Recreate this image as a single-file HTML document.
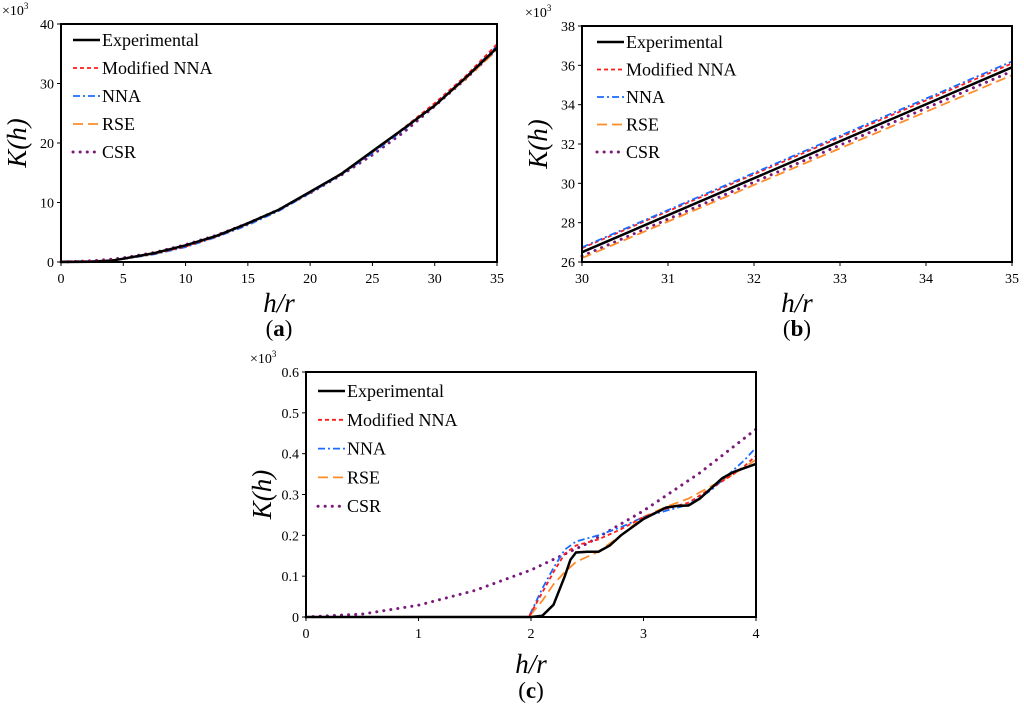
<!DOCTYPE html>
<html><head><meta charset="utf-8"><style>
body{margin:0;background:#fff;}
svg text{font-family:"Liberation Serif",serif;fill:#000;}
</style></head><body>
<svg id="s" width="1024" height="704" xmlns="http://www.w3.org/2000/svg"></svg>
<script>
// Panel (a) data
const aX = [0,2.5,4,5,7.5,10,12.5,15,17.5,20,22.5,25,27.5,30,32.5,35];
const aExp = [0,0.05,0.2,0.55,1.5,2.8,4.4,6.5,8.8,11.8,14.8,18.6,22.4,26.3,31.0,36.0];
const aMod = [0.1,0.15,0.3,0.5,1.4,2.6,4.3,6.4,8.8,11.7,14.9,18.5,22.5,26.7,31.3,36.6];
const aNNA = [0.1,0.15,0.3,0.5,1.3,2.5,4.2,6.2,8.6,11.6,14.7,18.3,22.2,26.4,31.1,36.3];
const aRSE = [0.1,0.15,0.3,0.5,1.4,2.6,4.3,6.4,8.7,11.7,14.8,18.4,22.3,26.3,30.8,35.6];
const aCSR = [0,0.2,0.45,0.7,1.6,2.9,4.5,6.5,8.8,11.6,14.6,18.0,21.8,26.2,30.8,35.8];
// Panel (b) data
const bX = [30,35];
const bExp = [26.5,35.9];
const bMod = [26.7,36.1];
const bNNA = [26.75,36.2];
const bRSE = [26.2,35.5];
const bCSR = [26.3,35.7];
// Panel (c) data
const cExpX = [0,2.0,2.1,2.2,2.3,2.35,2.4,2.5,2.6,2.7,2.8,3.0,3.2,3.3,3.4,3.5,3.6,3.7,3.8,4.0];
const cExp = [0,0,0.003,0.03,0.1,0.14,0.158,0.16,0.16,0.175,0.2,0.24,0.268,0.272,0.273,0.29,0.315,0.34,0.355,0.375];
const cFitX = [0,1.98,2.1,2.2,2.3,2.4,2.6,2.8,3.0,3.2,3.4,3.6,3.8,3.9,4.0];
const cMod = [0,0,0.06,0.11,0.155,0.175,0.19,0.215,0.245,0.265,0.28,0.315,0.35,0.37,0.395];
const cNNA = [0,0,0.07,0.12,0.165,0.185,0.2,0.22,0.245,0.26,0.275,0.31,0.36,0.385,0.415];
const cRSE = [0,0,0.04,0.08,0.11,0.135,0.16,0.2,0.245,0.27,0.29,0.32,0.35,0.367,0.385];
const cCSRX = [0,0.5,1,1.5,2,2.5,3,3.5,4];
const cCSR = [0,0.007,0.029,0.065,0.115,0.18,0.26,0.353,0.46];

const NS="http://www.w3.org/2000/svg";
const svg=document.getElementById('s');
function mk(tag,attrs,parent){const e=document.createElementNS(NS,tag);for(const k in attrs)e.setAttribute(k,attrs[k]);(parent||svg).appendChild(e);return e;}
const styles={
 exp:{stroke:'#000','stroke-width':2.5},
 mod:{stroke:'#ff1a1a','stroke-width':1.8,'stroke-dasharray':'4,3'},
 nna:{stroke:'#1a6bff','stroke-width':1.8,'stroke-dasharray':'7,3,2,3'},
 rse:{stroke:'#ff8c2a','stroke-width':1.8,'stroke-dasharray':'10,5'},
 csr:{stroke:'#7a1a7a','stroke-width':3,'stroke-dasharray':'0.1,7','stroke-linecap':'round'}
};
const names=['Experimental','Modified NNA','NNA','RSE','CSR'];
const keys=['exp','mod','nna','rse','csr'];

function panel(p){
  const g=mk('g',{});
  
  
  const sx=v=>p.x0+(v-p.xmin)/(p.xmax-p.xmin)*(p.x1-p.x0);
  const sy=v=>p.y0-(v-p.ymin)/(p.ymax-p.ymin)*(p.y0-p.y1);
  p.series.forEach((s,i)=>{
    const d=s.x.map((xv,j)=>(j?'L':'M')+sx(xv).toFixed(1)+','+sy(s.y[j]).toFixed(1)).join('');
    const path=mk('path',Object.assign({d:d,fill:'none'},styles[s.k]),g);
    
    
  });
  const fr=mk('rect',{x:p.x0,y:p.y1,width:p.x1-p.x0,height:p.y0-p.y1,fill:'none',stroke:'#000','stroke-width':2},g);
  
  
  p.xt.forEach(v=>{
    mk('line',{x1:sx(v),x2:sx(v),y1:p.y0,y2:p.y0+4,stroke:'#000','stroke-width':1},g);
    const t=mk('text',{x:sx(v),y:p.y0+21,'text-anchor':'middle','font-size':14},g);t.textContent=p.xl(v);
    
    
  });
  p.yt.forEach(v=>{
    mk('line',{x1:p.x0-4,x2:p.x0,y1:sy(v),y2:sy(v),stroke:'#000','stroke-width':1},g);
    const t=mk('text',{x:p.x0-7,y:sy(v)+5,'text-anchor':'end','font-size':14},g);t.textContent=p.yl(v);
    
    
  });
  keys.forEach((k,i)=>{
    const y=p.ly+i*p.lgap;
    mk('line',Object.assign({x1:p.lx,x2:p.lx+27,y1:y,y2:y},styles[k]),g);
    const t=mk('text',{x:p.lx+29,y:y+6,'font-size':18},g);t.textContent=names[i];
    
    
  });
  const m=mk('text',{x:p.mx,y:p.my,'font-size':14,fill:'#333'},g);
  m.innerHTML='×10<tspan dy="-6" font-size="9">3</tspan>';
  
  
  const yt=mk('text',{x:0,y:0,'font-size':27,'font-style':'italic','text-anchor':'middle',transform:`translate(${p.x0-35},${(p.y0+p.y1)/2}) rotate(-90)`},g);
  yt.textContent='K(h)';
  
  
  const xt=mk('text',{x:(p.x0+p.x1)/2,y:p.y0+p.tdy,'font-size':27,'font-style':'italic','text-anchor':'middle'},g);
  xt.textContent='h/r';
  
  
  const cap=mk('text',{x:(p.x0+p.x1)/2,y:p.y0+p.cdy,'font-size':23,'text-anchor':'middle'},g);
  cap.innerHTML='(<tspan font-weight="bold">'+p.id+'</tspan>)';
  
  
}
const r5=(a,b,s)=>{const o=[];for(let v=a;v<=b+1e-9;v+=s)o.push(+v.toFixed(2));return o;};
panel({id:'a',x0:61,x1:497,y0:262,y1:24,xmin:0,xmax:35,ymin:0,ymax:40,tdy:50,cdy:74,
 xt:r5(0,35,5),yt:r5(0,40,10),xl:v=>v,yl:v=>v,lx:73,ly:40,lgap:28,mx:2,my:15,
 series:[{k:'csr',x:aX,y:aCSR},{k:'rse',x:aX,y:aRSE},{k:'nna',x:aX,y:aNNA},{k:'mod',x:aX,y:aMod},{k:'exp',x:aX,y:aExp}]});
panel({id:'b',x0:582,x1:1012,y0:262,y1:26,xmin:30,xmax:35,ymin:26,ymax:38,tdy:50,cdy:74,
 xt:r5(30,35,1),yt:r5(26,38,2),xl:v=>v,yl:v=>v,lx:597,ly:42,lgap:27.5,mx:525,my:17,
 series:[{k:'exp',x:bX,y:bExp},{k:'csr',x:bX,y:bCSR},{k:'rse',x:bX,y:bRSE},{k:'mod',x:bX,y:bMod},{k:'nna',x:bX,y:bNNA}]});
panel({id:'c',x0:306,x1:756,y0:617,y1:372,xmin:0,xmax:4,ymin:0,ymax:0.6,tdy:56,cdy:81,
 xt:r5(0,4,1),yt:r5(0,0.6,0.1),xl:v=>v,yl:v=>v===0?'0':v.toFixed(1),lx:318,ly:391,lgap:28.8,mx:250,my:363,
 series:[{k:'csr',x:cCSRX,y:cCSR},{k:'rse',x:cFitX,y:cRSE},{k:'nna',x:cFitX,y:cNNA},{k:'mod',x:cFitX,y:cMod},{k:'exp',x:cExpX,y:cExp}]});
</script>
</body></html>
